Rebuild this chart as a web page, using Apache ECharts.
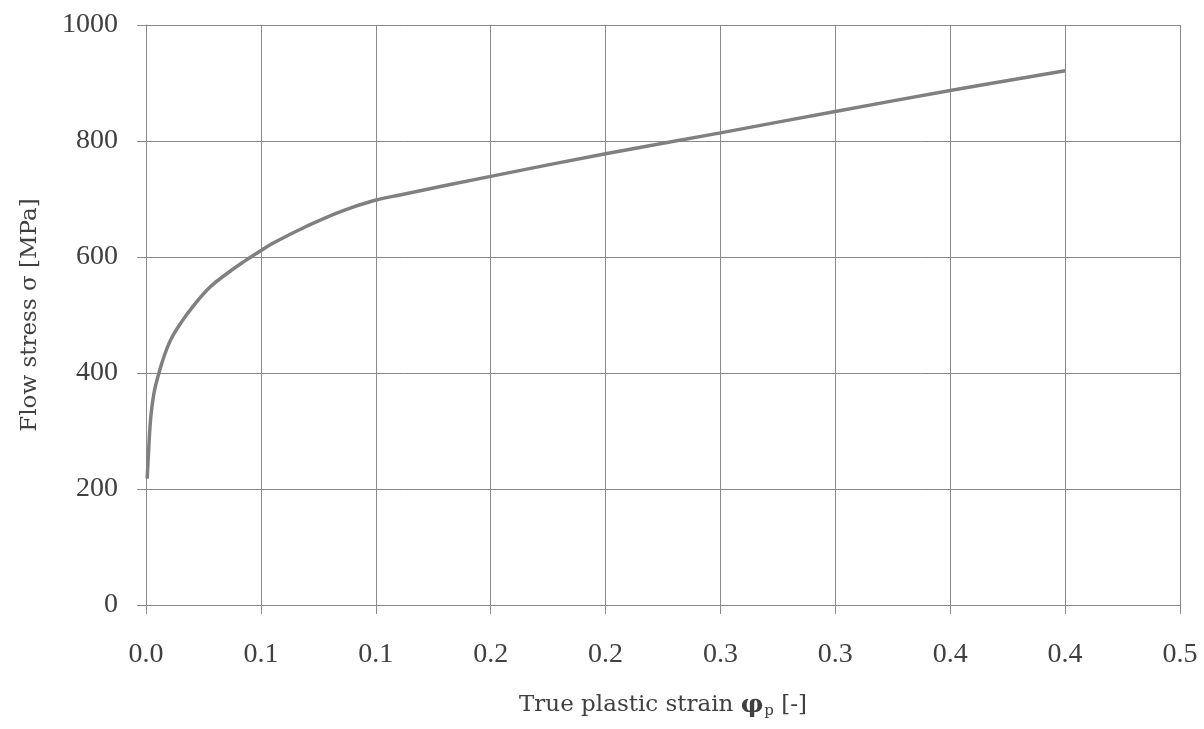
<!DOCTYPE html>
<html>
<head>
<meta charset="utf-8">
<script src="https://cdn.jsdelivr.net/npm/echarts@6/dist/echarts.min.js"></script>
<style>
  html, body { margin: 0; padding: 0; background: #fff; }
  #main { width: 1204px; height: 729px; }
</style>
</head>
<body>
<div id="main"></div>
<script>
// true plastic strain [-] and flow stress [MPa]
var strain = [0.0005, 0.001, 0.002, 0.0035, 0.0057, 0.0078, 0.0107, 0.0151, 0.0209, 0.0281,
  0.0354, 0.0426, 0.0492, 0.0554, 0.0699, 0.0844, 0.0989, 0.1105, 0.15, 0.2,
  0.25, 0.3, 0.35, 0.4];
var stress = [218, 255, 320, 366, 401, 428, 457, 486, 517, 549,
  572, 592, 609, 624, 653, 678, 697, 707, 739, 778,
  814, 851, 887, 921];

var xMin = 0, xMax = 0.45, xStep = 0.05;
var yMin = 0, yMax = 1000, yStep = 200;

var textColor = "#404040";
var gridColor = "#898989";
var font = "'Liberation Serif', 'DejaVu Serif', serif";
var nameFont = "'DejaVu Serif', serif";

var points = strain.map(function (s, i) { return [s, stress[i]]; });

var myChart = echarts.init(document.getElementById("main"));

// excel style one-decimal labels (0.05 -> 0.1)
function oneDecimal(v) {
  return (Math.round(v * 10 + 1e-9) / 10).toFixed(1);
}

var option = {
  backgroundColor: "#fff",
  animation: false,
  grid: { left: 146, right: 24, top: 25, bottom: 124 },
  xAxis: {
    type: "value",
    min: xMin,
    max: xMax,
    interval: xStep,
    name: "{a|True plastic strain }{b|φ}{c|p}{a| [-]}",
    nameLocation: "middle",
    nameGap: 87,
    nameTextStyle: {
      rich: {
        a: { fontFamily: nameFont, fontSize: 23, color: textColor },
        b: { fontFamily: nameFont, fontSize: 25, fontWeight: "bold", color: textColor },
        c: { fontFamily: nameFont, fontSize: 15, color: textColor, padding: [12, 0, 0, 1] }
      }
    },
    axisLine: { show: true, lineStyle: { color: gridColor, width: 1 } },
    axisTick: { show: true, length: 9, lineStyle: { color: gridColor } },
    axisLabel: {
      margin: 36,
      fontFamily: font,
      fontSize: 28,
      color: textColor,
      formatter: oneDecimal
    },
    splitLine: { show: true, lineStyle: { color: gridColor, width: 1 } }
  },
  yAxis: {
    type: "value",
    min: yMin,
    max: yMax,
    interval: yStep,
    name: "Flow stress σ [MPa]",
    nameLocation: "middle",
    nameGap: 104,
    nameTextStyle: { fontFamily: nameFont, fontSize: 23, color: textColor },
    axisLine: { show: true, lineStyle: { color: gridColor, width: 1 } },
    axisTick: { show: true, length: 9, lineStyle: { color: gridColor } },
    axisLabel: {
      margin: 28,
      fontFamily: font,
      fontSize: 28,
      color: textColor,
      formatter: function (v) { return String(v); }
    },
    splitLine: { show: true, lineStyle: { color: gridColor, width: 1 } }
  },
  series: [
    {
      type: "line",
      data: points,
      showSymbol: false,
      smooth: 0.4,
      lineStyle: { color: "#808080", width: 3.5 }
    }
  ]
};

myChart.setOption(option);
</script>
</body>
</html>
